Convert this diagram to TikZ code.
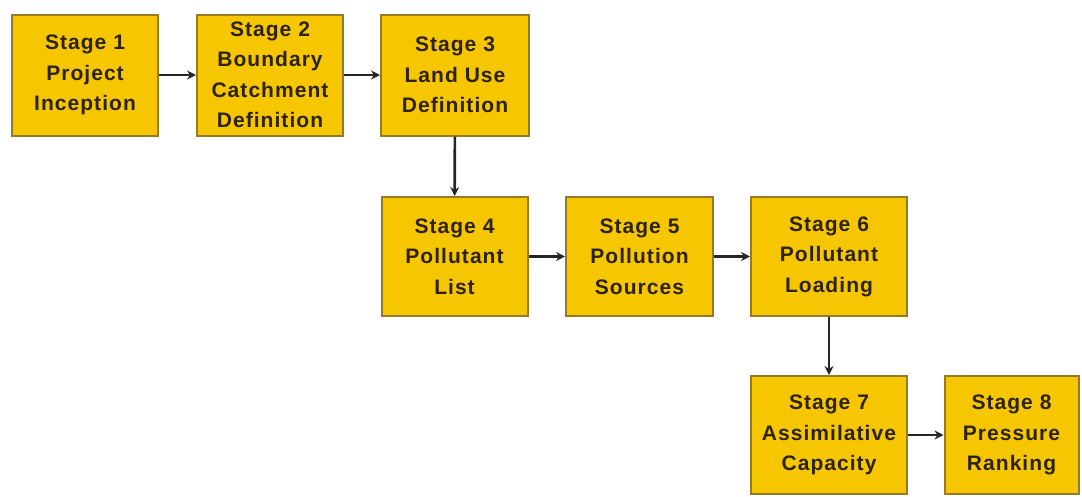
\documentclass[tikz,border=0pt]{standalone}
\usepackage{fontspec}
\setmainfont{Liberation Sans}
\newfontfamily\stagefont[LetterSpace=5]{Liberation Sans}
\usetikzlibrary{arrows.meta,positioning}
\definecolor{stagegold}{RGB}{246,198,0}
\definecolor{stageedge}{RGB}{150,122,40}
\definecolor{stagetext}{RGB}{45,35,10}
\begin{document}
\begin{tikzpicture}[x=1pt,y=1pt]
\useasboundingbox (0,0) rectangle (1082,-496);
\tikzstyle{stagenode} = [rectangle,draw=stageedge,line width=2pt,fill=stagegold,minimum width=146pt,minimum height=121pt,inner sep=2pt,align=center,text=stagetext,font=\stagefont\fontsize{21}{30.5}\selectfont\bfseries]
\tikzstyle{flow} = [draw=black!85,line width=2.6pt,-{Stealth[length=9pt,width=9pt]}]
%%%%%%%%%%%%%%%%%%%%%%%%%%%%%
% first row
%%%%%%%%%%%%%%%%%%%%%%%%%%%%%
\node [stagenode] (s1) at (85,-75){Stage 1\\Project\\Inception};
\node [stagenode] (s2) at (270,-75){Stage 2\\Boundary\\Catchment\\Definition};
\node [stagenode,minimum width=148pt] (s3) at (455,-75){Stage 3\\Land Use\\Definition};
%%%%%%%%%%%%%%%%%%%%%%%%%%%%%
% second row
%%%%%%%%%%%%%%%%%%%%%%%%%%%%%
\node [stagenode,minimum height=119pt] (s4) at (454.5,-256.5){Stage 4\\Pollutant\\List};
\node [stagenode,minimum height=119pt,minimum width=147pt] (s5) at (639.5,-256.5){Stage 5\\Pollution\\Sources};
\node [stagenode,minimum height=119pt,minimum width=156pt] (s6) at (829,-256.5){Stage 6\\Pollutant\\Loading};
%%%%%%%%%%%%%%%%%%%%%%%%%%%%%
% third row
%%%%%%%%%%%%%%%%%%%%%%%%%%%%%
\node [stagenode,minimum height=118pt,minimum width=156pt] (s7) at (829,-435){Stage 7\\Assimilative\\Capacity};
\node [stagenode,minimum height=118pt,minimum width=134pt] (s8) at (1011.5,-435){Stage 8\\Pressure\\Ranking};
% arrows
\draw [flow] (s1) -- (s2);
\draw [flow] (s2) -- (s3);
\draw [flow] (s3) -- (s4);
\draw [flow] (s4) -- (s5);
\draw [flow] (s5) -- (s6);
\draw [flow] (s6) -- (s7);
\draw [flow] (s7) -- (s8);
\end{tikzpicture}
\end{document}
